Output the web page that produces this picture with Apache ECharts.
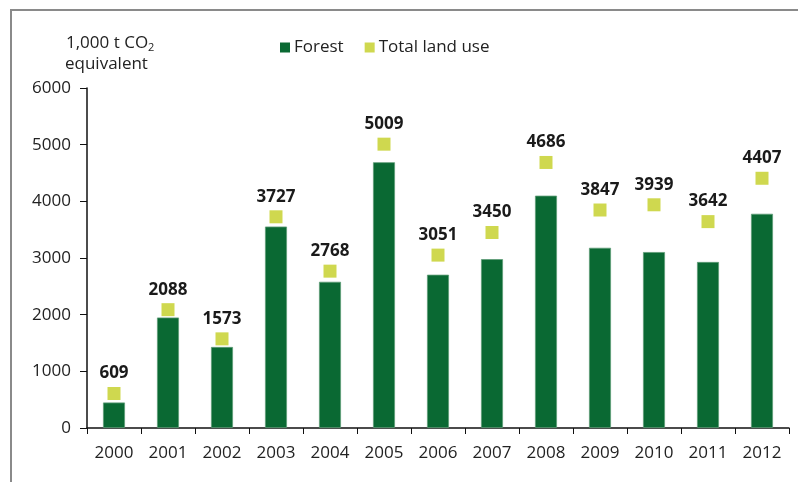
<!DOCTYPE html>
<html><head><meta charset="utf-8">
<script src="https://cdn.jsdelivr.net/npm/echarts@6/dist/echarts.min.js"></script>
<style>html,body{margin:0;padding:0;background:#fff}#c{width:798px;height:482px}</style>
</head><body><div id="c"></div>
<script>
const years = ['2000','2001','2002','2003','2004','2005','2006','2007','2008','2009','2010','2011','2012'];
const forest = [450, 1950, 1430, 3555, 2580, 4690, 2705, 2980, 4100, 3180, 3105, 2930, 3780];
const totalLandUse = [609, 2088, 1573, 3727, 2768, 5009, 3051, 3450, 4686, 3847, 3939, 3642, 4407];
const yTicks = [0, 1000, 2000, 3000, 4000, 5000, 6000];

const FONT = 'Open Sans';
const chart = echarts.init(document.getElementById('c'), null, {renderer: 'canvas'});
chart.setOption({
  animation: false,
  backgroundColor: '#fff',
  textStyle: {fontFamily: FONT},
  graphic: [
    {type: 'polyline', shape: {points: [[11, 482], [11, 10], [798, 10]]}, style: {stroke: '#8a8a8a', lineWidth: 2, fill: null}},
    {type: 'text', left: 66, top: 35, style: {
      text: '{a|1,000 t CO}{s|2}', rich: {
        a: {fontFamily: FONT, fontSize: 17, fill: '#222'},
        s: {fontFamily: FONT, fontSize: 11, fill: '#222', verticalAlign: 'bottom', padding: [8, 0, 0, 0]}
      }}},
    {type: 'text', left: 65, top: 56, style: {text: 'equivalent', fontFamily: FONT, fontSize: 17, fill: '#222'}}
  ],
  legend: {
    left: 275, top: 34, itemWidth: 10, itemHeight: 10, itemGap: 21,
    itemStyle: {borderWidth: 0},
    textStyle: {fontFamily: FONT, fontSize: 17, color: '#222', padding: [0, 0, 0, -1]},
    data: [{name: 'Forest', icon: 'rect'}, {name: 'Total land use', icon: 'rect'}]
  },
  grid: {left: 87, right: 9, top: 88, bottom: 54, containLabel: false},
  xAxis: {
    type: 'category', data: years, boundaryGap: true,
    axisLine: {lineStyle: {color: '#111', width: 1.5}},
    axisTick: {show: true, length: 6, alignWithLabel: false, lineStyle: {color: '#111'}},
    axisLabel: {fontFamily: FONT, fontSize: 17, color: '#222', margin: 17}
  },
  yAxis: {
    type: 'value', min: 0, max: 6000, interval: 1000,
    axisLine: {show: true, lineStyle: {color: '#111', width: 1.5}},
    axisTick: {show: true, length: 7, lineStyle: {color: '#111'}},
    splitLine: {show: false},
    axisLabel: {fontFamily: FONT, fontSize: 17, color: '#222', margin: 16,
      formatter: v => yTicks.includes(v) ? String(v) : ''}
  },
  series: [
    {name: 'Forest', type: 'bar', data: forest, barWidth: 22,
     itemStyle: {color: '#0a6933', borderColor: '#5e9c76', borderWidth: 0.8}},
    {name: 'Total land use', type: 'scatter', data: totalLandUse, symbol: 'rect', symbolSize: 13,
     itemStyle: {color: '#cfd84f', opacity: 1},
     label: {show: true, position: 'top', distance: 5, fontFamily: FONT, fontSize: 17, fontWeight: 'bold', color: '#1a1a1a'}}
  ]
});
</script></body></html>
